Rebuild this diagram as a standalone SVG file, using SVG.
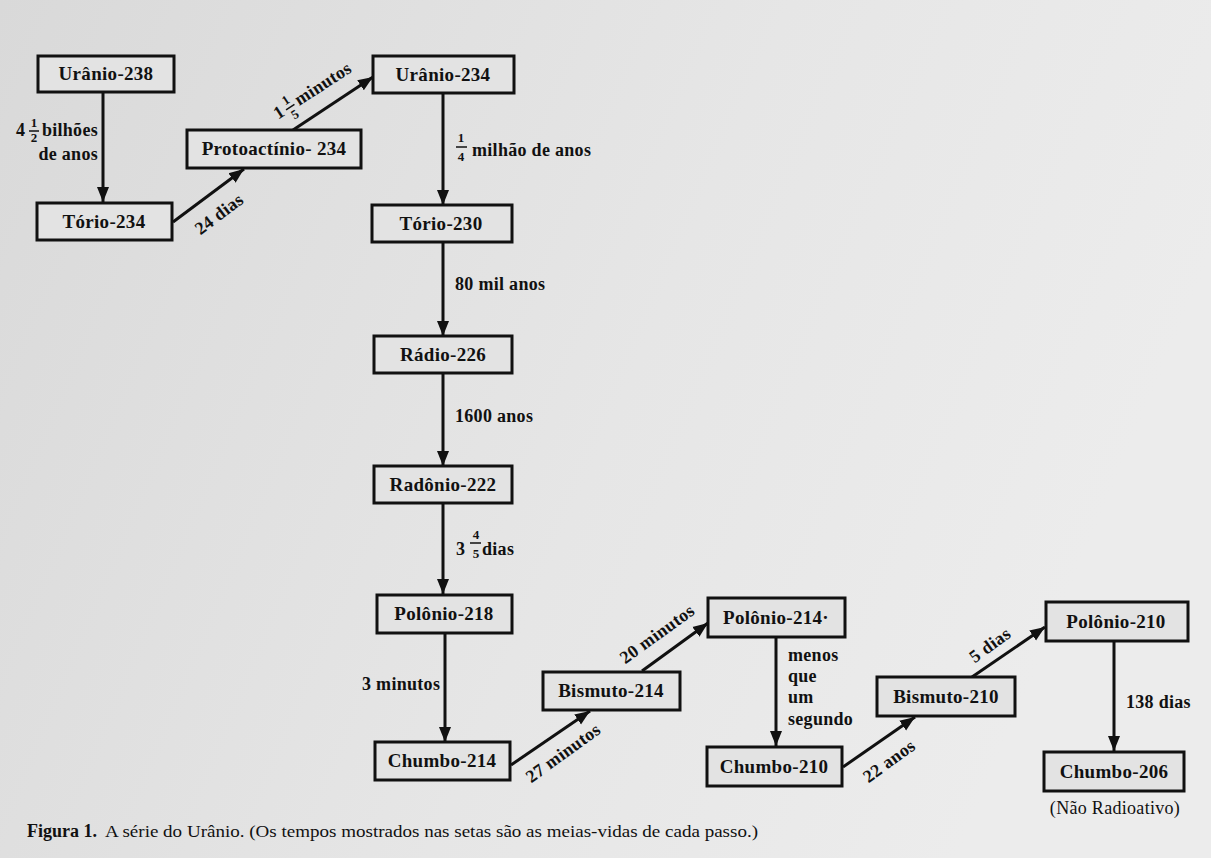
<svg xmlns="http://www.w3.org/2000/svg" width="1211" height="858" viewBox="0 0 1211 858">
<defs>
<linearGradient id="bg" x1="0" y1="0" x2="1" y2="0.3">
<stop offset="0" stop-color="#d9d9d9"/>
<stop offset="0.6" stop-color="#e6e6e6"/>
<stop offset="1" stop-color="#ececec"/>
</linearGradient>
<marker id="ah" viewBox="0 0 10 10" refX="10" refY="5" markerWidth="5" markerHeight="5" orient="auto" markerUnits="strokeWidth">
<path d="M0,1 L10,5 L0,9 Z" fill="#111"/>
</marker>
<style>
.box{fill:#e3e3e3;stroke:#111;stroke-width:3}
.lbl{font-family:"Liberation Serif",serif;font-size:19px;font-weight:bold;letter-spacing:0.3px;fill:#111;text-anchor:middle}
.t{font-family:"Liberation Serif",serif;font-size:18px;font-weight:bold;letter-spacing:0.3px;fill:#111}
.fr{font-family:"Liberation Serif",serif;font-size:13px;font-weight:bold;fill:#111;text-anchor:middle}
.ln{stroke:#111;stroke-width:3;fill:none;marker-end:url(#ah)}
.bar{stroke:#111;stroke-width:1.5}
.cap{font-family:"Liberation Serif",serif;font-size:17px;fill:#111}
</style>
</defs>
<rect width="1211" height="858" fill="url(#bg)"/>

<g id="connectors">
<line class="ln" x1="103" y1="92" x2="103" y2="202"/>
<line class="ln" x1="173" y1="222" x2="244" y2="169"/>
<line class="ln" x1="293" y1="130" x2="373" y2="77"/>
<line class="ln" x1="443" y1="93" x2="443" y2="205"/>
<line class="ln" x1="443" y1="242" x2="443" y2="336"/>
<line class="ln" x1="443" y1="373" x2="443" y2="466"/>
<line class="ln" x1="443" y1="503" x2="443" y2="594"/>
<line class="ln" x1="445" y1="633" x2="445" y2="742"/>
<line class="ln" x1="511" y1="765" x2="590" y2="711"/>
<line class="ln" x1="642" y1="671" x2="708" y2="623"/>
<line class="ln" x1="776" y1="637" x2="776" y2="746"/>
<line class="ln" x1="843" y1="767" x2="915" y2="717"/>
<line class="ln" x1="972" y1="677" x2="1045" y2="627"/>
<line class="ln" x1="1114" y1="641" x2="1114" y2="751"/>

<g id="l1">
<text class="t" x="16" y="136">4</text>
<text class="fr" x="34" y="127">1</text>
<line class="bar" x1="29" y1="131" x2="39" y2="131"/>
<text class="fr" x="34" y="142">2</text>
<text class="t" x="98" y="136" text-anchor="end">bilhões</text>
<text class="t" x="98" y="160" text-anchor="end">de anos</text>
</g>
<g transform="translate(219,214) rotate(-37)"><text class="t" x="0" y="6" text-anchor="middle">24 dias</text></g>
<g transform="translate(316,88) rotate(-33)">
<text class="t" x="-49" y="6">1</text>
<text class="fr" x="-32" y="-2">1</text>
<line class="bar" x1="-37" y1="2" x2="-27" y2="2"/>
<text class="fr" x="-32" y="15">5</text>
<text class="t" x="-24" y="6">minutos</text>
</g>
<g id="l4">
<text class="fr" x="461" y="142">1</text>
<line class="bar" x1="456" y1="147" x2="467" y2="147"/>
<text class="fr" x="461" y="161">4</text>
<text class="t" x="472" y="156">milhão de anos</text>
</g>
<text class="t" x="455" y="290">80 mil anos</text>
<text class="t" x="455" y="422">1600 anos</text>
<g id="l7">
<text class="t" x="456" y="555">3</text>
<text class="fr" x="476" y="539">4</text>
<line class="bar" x1="470" y1="543" x2="481" y2="543"/>
<text class="fr" x="476" y="558">5</text>
<text class="t" x="482" y="555">dias</text>
</g>
<text class="t" x="362" y="690">3 minutos</text>
<g transform="translate(563,753) rotate(-36)"><text class="t" x="0" y="6" text-anchor="middle">27 minutos</text></g>
<g transform="translate(657,634) rotate(-36)"><text class="t" x="0" y="6" text-anchor="middle">20 minutos</text></g>
<g id="l11">
<text class="t" x="788" y="661">menos</text>
<text class="t" x="788" y="682">que</text>
<text class="t" x="788" y="703">um</text>
<text class="t" x="788" y="725">segundo</text>
</g>
<g transform="translate(889,761) rotate(-36)"><text class="t" x="0" y="6" text-anchor="middle">22 anos</text></g>
<g transform="translate(990,645) rotate(-36)"><text class="t" x="0" y="6" text-anchor="middle">5 dias</text></g>
<text class="t" x="1126" y="708">138 dias</text>
</g>

<g id="n-u238"><rect class="box" x="38" y="56" width="136" height="36"/><text class="lbl" x="106" y="80">Urânio-238</text></g>
<g id="n-th234"><rect class="box" x="37" y="203" width="135" height="37"/><text class="lbl" x="104" y="228">Tório-234</text></g>
<g id="n-pa234"><rect class="box" x="187" y="130" width="174" height="38"/><text class="lbl" x="274" y="155">Protoactínio-  234</text></g>
<g id="n-u234"><rect class="box" x="373" y="56" width="141" height="37"/><text class="lbl" x="443" y="81">Urânio-234</text></g>
<g id="n-th230"><rect class="box" x="372" y="205" width="140" height="37"/><text class="lbl" x="441" y="230">Tório-230</text></g>
<g id="n-ra226"><rect class="box" x="374" y="336" width="138" height="37"/><text class="lbl" x="443" y="361">Rádio-226</text></g>
<g id="n-rn222"><rect class="box" x="374" y="466" width="138" height="37"/><text class="lbl" x="443" y="491">Radônio-222</text></g>
<g id="n-po218"><rect class="box" x="377" y="595" width="135" height="38"/><text class="lbl" x="444" y="620">Polônio-218</text></g>
<g id="n-pb214"><rect class="box" x="375" y="742" width="135" height="38"/><text class="lbl" x="442" y="767">Chumbo-214</text></g>
<g id="n-bi214"><rect class="box" x="543" y="672" width="137" height="38"/><text class="lbl" x="611" y="697">Bismuto-214</text></g>
<g id="n-po214"><rect class="box" x="708" y="598" width="137" height="39"/><text class="lbl" x="776" y="624">Polônio-214·</text></g>
<g id="n-pb210"><rect class="box" x="707" y="747" width="135" height="39"/><text class="lbl" x="774" y="773">Chumbo-210</text></g>
<g id="n-bi210"><rect class="box" x="877" y="677" width="138" height="39"/><text class="lbl" x="946" y="703">Bismuto-210</text></g>
<g id="n-po210"><rect class="box" x="1046" y="602" width="142" height="39"/><text class="lbl" x="1116" y="628">Polônio-210</text></g>
<g id="n-pb206"><rect class="box" x="1044" y="752" width="140" height="39"/><text class="lbl" x="1114" y="778">Chumbo-206</text>
<text class="lbl" x="1115" y="814" style="font-weight:normal;font-size:18px">(Não Radioativo)</text></g>

<text class="cap" y="837"><tspan x="27" font-weight="bold" font-size="18">Figura 1.</tspan><tspan x="105" textLength="653" lengthAdjust="spacingAndGlyphs">A série do Urânio. (Os tempos mostrados nas setas são as meias-vidas de cada passo.)</tspan></text>
</svg>
